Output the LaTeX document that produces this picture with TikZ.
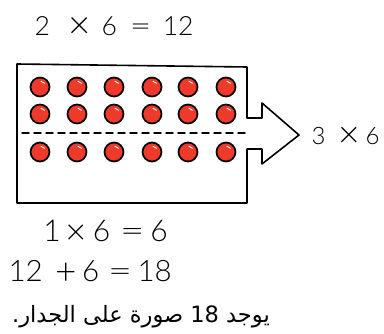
\documentclass[tikz,border=0pt]{standalone}
\usepackage{fontspec}
\setmainfont{Lato Light}
\newfontfamily\arabicfont[Script=Arabic]{DejaVu Sans}
\TeXXeTstate=1
\definecolor{dotred}{HTML}{EE3A2A}
\newcommand{\tk}[2]{\rlap{\hspace{#1pt}\makebox[0pt]{#2}}}
\newcommand{\bigtimes}[1]{\raisebox{-0.1em}{\scalebox{#1}{×}}}
\newcommand{\wideeq}{\scalebox{1.4}[1]{=}}
\newcommand{\bigplus}{\raisebox{-0.08em}{\scalebox{1.25}{+}}}
\begin{document}
\begin{tikzpicture}[x=1pt,y=-1pt,
  hand/.style={line width=1.6pt, line cap=round, line join=round},
  dot/.style={circle, draw=black, line width=1.7pt, fill=dotred, minimum size=19pt, inner sep=0pt},
  eq/.style={inner sep=0pt, anchor=base west}]
\useasboundingbox (0,0) rectangle (384,334);
\draw[hand] (247,118) -- (247,67) -- (17,64) -- (17,203) -- (247,203) -- (247,149)
  -- (262,149) -- (262,164) -- (299,135) -- (262,103) -- (262,118) -- cycle;
\draw[hand, line width=1.4pt, dash pattern=on 7pt off 5pt] (22,133) -- (245,133);
\foreach \c [count=\i] in {40,77,114,152,188,226}{
  \foreach \r [count=\j] in {87,114,152}{
    \node[dot] (d\i\j) at (\c,\r) {};
    \draw[white, line width=0.9pt, line cap=round] ([shift={(-80:5.8)}]\c,\r) arc[start angle=-80, end angle=-40, radius=5.8];
  }
}
\node[eq, font=\fontsize{26.5}{30}\selectfont] (top) at (0,36)
  {\tk{41.5}{2}\tk{78.5}{\bigtimes{1.45}}\tk{108.5}{6}\tk{140}{\wideeq}\tk{177.5}{12}};
\node[eq, font=\fontsize{24}{28}\selectfont] (side) at (0,145)
  {\tk{318}{3}\tk{349}{\bigtimes{1.55}}\tk{372}{6}};
\node[eq, font=\fontsize{30}{34}\selectfont] (one) at (0,242)
  {\tk{51.5}{1}\tk{75}{\bigtimes{1.2}}\tk{101}{6}\tk{131.5}{\wideeq}\tk{158.5}{6}};
\node[eq, font=\fontsize{29.5}{33}\selectfont] (sum) at (0,282)
  {\tk{25}{12}\tk{65}{\bigplus}\tk{90}{6}\tk{119.5}{\wideeq}\tk{154}{18}};
\node[font=\arabicfont\fontsize{22.5}{27}\selectfont, inner sep=0pt, anchor=base west] (ar) at (12,323)
  {\beginR يوجد \beginL18\endL{} صورة على الجدار.\endR};
\end{tikzpicture}
\end{document}
